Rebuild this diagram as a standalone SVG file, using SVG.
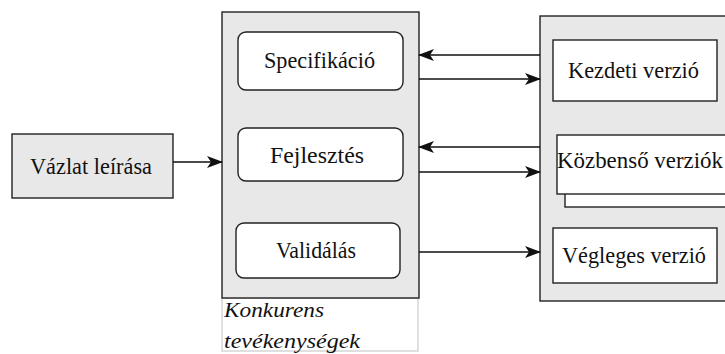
<svg xmlns="http://www.w3.org/2000/svg" width="725" height="354" viewBox="0 0 725 354">
  <style>
    .box { fill: #e8e8e8; stroke: #222; stroke-width: 1.4; }
    .inner { fill: #fff; stroke: #222; stroke-width: 1.4; }
    .lbl { font-family: "Liberation Serif", "Times New Roman", serif; font-size: 23px; fill: #111; }
    .note { font-family: "Liberation Serif", "Times New Roman", serif; font-size: 22px; font-style: italic; fill: #111; }
    .conn { stroke: #111; stroke-width: 1.4; fill: none; marker-end: url(#head); }
  </style>
  <defs>
    <marker id="head" viewBox="0 0 16 12" refX="15" refY="6" markerWidth="16" markerHeight="12" markerUnits="userSpaceOnUse" orient="auto">
      <path d="M0,0 L16,6 L0,12 L4,6 Z" fill="#111"/>
    </marker>
  </defs>

  <rect width="725" height="354" fill="#fff"/>

  <g id="vazlat">
    <rect class="box" x="12" y="134" width="161" height="64"/>
    <text class="lbl" x="30" y="174" textLength="122" lengthAdjust="spacingAndGlyphs">Vázlat leírása</text>
  </g>

  <g id="konkurens">
    <rect x="222" y="298" width="196" height="53" fill="#fff" stroke="#ccc" stroke-width="1.2"/>
    <rect class="box" x="222" y="12" width="197" height="286"/>
    <text class="note" x="224" y="317" textLength="100" lengthAdjust="spacingAndGlyphs">Konkurens</text>
    <text class="note" x="224" y="348" textLength="136" lengthAdjust="spacingAndGlyphs">tevékenységek</text>
  </g>

  <g id="specifikacio">
    <rect class="inner" x="238" y="32" width="165" height="58" rx="8"/>
    <text class="lbl" x="264" y="68" textLength="111" lengthAdjust="spacingAndGlyphs">Specifikáció</text>
  </g>

  <g id="fejlesztes">
    <rect class="inner" x="238" y="128" width="165" height="53" rx="8"/>
    <text class="lbl" x="270" y="163" textLength="94" lengthAdjust="spacingAndGlyphs">Fejlesztés</text>
  </g>

  <g id="validalas">
    <rect class="inner" x="236" y="223" width="164" height="55" rx="8"/>
    <text class="lbl" x="276" y="258" textLength="80" lengthAdjust="spacingAndGlyphs">Validálás</text>
  </g>

  <g id="verziok">
    <rect class="box" x="540" y="16" width="200" height="285"/>
  </g>

  <g id="kezdeti">
    <rect class="inner" x="553" y="40" width="164" height="61"/>
    <text class="lbl" x="568" y="78" textLength="131" lengthAdjust="spacingAndGlyphs">Kezdeti verzió</text>
  </g>

  <g id="kozbenso">
    <rect class="inner" x="565" y="147" width="170" height="60"/>
    <rect class="inner" x="557" y="135" width="175" height="59"/>
    <text class="lbl" x="557" y="168" textLength="166" lengthAdjust="spacingAndGlyphs">Közbenső verziók</text>
  </g>

  <g id="vegleges">
    <rect class="inner" x="553" y="228" width="164" height="55"/>
    <text class="lbl" x="562" y="263" textLength="144" lengthAdjust="spacingAndGlyphs">Végleges verzió</text>
  </g>

  <g id="connectors">
    <line class="conn" x1="173" y1="162" x2="222" y2="162"/>
    <line class="conn" x1="540" y1="55" x2="419" y2="55"/>
    <line class="conn" x1="419" y1="79" x2="540" y2="79"/>
    <line class="conn" x1="540" y1="147" x2="419" y2="147"/>
    <line class="conn" x1="419" y1="172" x2="540" y2="172"/>
    <line class="conn" x1="419" y1="252" x2="540" y2="252"/>
  </g>
</svg>
